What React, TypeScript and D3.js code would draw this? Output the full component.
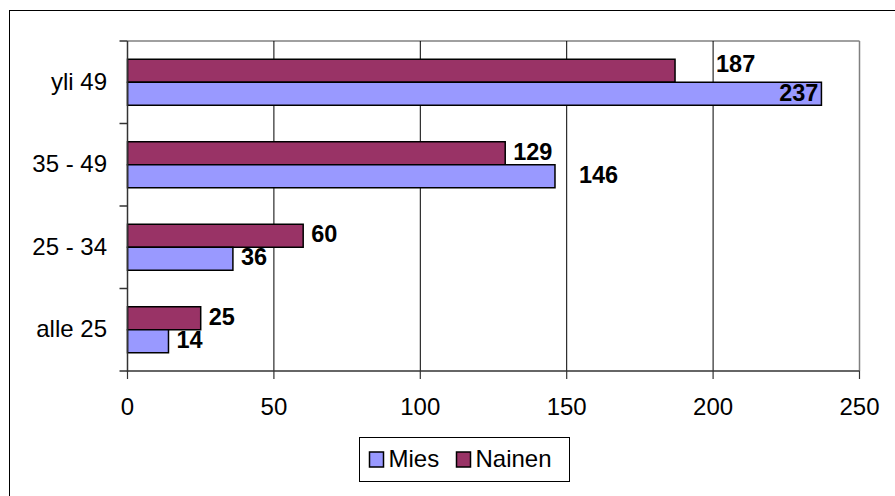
import React from "react";
import * as d3 from "d3";

const categories = ["yli 49", "35 - 49", "25 - 34", "alle 25"];
const seriesNames = ["Nainen", "Mies"];
const miesValues = [237, 146, 36, 14];
const nainenValues = [187, 129, 60, 25];
const xTicks = [0, 50, 100, 150, 200, 250];
const legendItems = ["Mies", "Nainen"];

const colors: Record<string, string> = { Mies: "#9999FF", Nainen: "#993366" };

// Excel-style label placement nudges (key: series|category)
const labelNudge: Record<string, { dx: number; dy: number; inside?: boolean }> = {
  "Nainen|yli 49": { dx: 33, dy: -5 },
  "Mies|yli 49": { dx: -11, dy: 1, inside: true },
  "Mies|35 - 49": { dx: 16, dy: 0.5 },
};

const W = 895;
const H = 496;
const FONT = "Arial, 'Liberation Sans', Helvetica, sans-serif";
const FS = 24;
const FSB = 23.5;

export default function App() {
  const x = d3.scaleLinear().domain([0, 250]).range([127.5, 859.5]);
  const y = d3.scaleBand<string>().domain(categories).range([41, 371]);
  const bw = y.bandwidth();
  const inner = d3
    .scaleBand<string>()
    .domain(seriesNames)
    .range([0, bw])
    .paddingInner(0)
    .paddingOuter((bw / 23 - 2) / 2);

  const dataBySeries: Record<string, number[]> = { Mies: miesValues, Nainen: nainenValues };
  const plotTop = y.range()[0];
  const plotBottom = y.range()[1];

  const bars: React.ReactNode[] = [];
  const labels: React.ReactNode[] = [];
  categories.forEach((c, i) => {
    seriesNames.forEach((s) => {
      const v = dataBySeries[s][i];
      const by = (y(c) as number) + (inner(s) as number);
      const bh = inner.bandwidth();
      bars.push(
        <rect
          key={`b-${s}-${c}`}
          x={x(0)}
          y={by}
          width={x(v) - x(0)}
          height={bh}
          fill={colors[s]}
          stroke="#000"
          strokeWidth={1.5}
        />
      );
      const n = labelNudge[`${s}|${c}`] || { dx: 0, dy: 0 };
      const cy = by + bh / 2 - 2 + n.dy;
      const lx = n.inside ? x(v) - 3 : x(v) + 8 + n.dx;
      labels.push(
        <text
          key={`l-${s}-${c}`}
          x={lx}
          y={cy + FSB * 0.358}
          textAnchor={n.inside ? "end" : "start"}
          fontFamily={FONT}
          fontSize={FSB}
          fontWeight="bold"
          fill="#000"
        >
          {v}
        </text>
      );
    });
  });

  const catBounds = [plotTop, ...categories.map((c) => (y(c) as number) + bw)];

  return (
    <svg
      width={W}
      height={H}
      style={{ position: "absolute", left: 0, top: 0, display: "block", background: "#fff" }}
    >
      <rect x={0} y={0} width={W} height={H} fill="#fff" />
      {/* outer chart border */}
      <rect x={9.5} y={10.5} width={W + 20} height={H + 20} fill="none" stroke="#000" strokeWidth={1} />
      {/* plot border top/right */}
      <line x1={x(0)} x2={x(250)} y1={plotTop} y2={plotTop} stroke="#808080" strokeWidth={1.5} />
      <line x1={x(250)} x2={x(250)} y1={plotTop} y2={plotBottom} stroke="#808080" strokeWidth={1.5} />
      {/* gridlines */}
      {xTicks
        .filter((t) => t > 0 && t < 250)
        .map((t) => (
          <line key={`g-${t}`} x1={x(t)} x2={x(t)} y1={plotTop} y2={plotBottom} stroke="#000" strokeWidth={1} />
        ))}
      {bars}
      {/* axes */}
      <line x1={x(0)} x2={x(0)} y1={plotTop} y2={plotBottom + 1} stroke="#333" strokeWidth={1.5} />
      <line x1={x(0)} x2={x(250)} y1={plotBottom} y2={plotBottom} stroke="#333" strokeWidth={1.5} />
      {catBounds.map((b, i) => (
        <line key={`yt-${i}`} x1={x(0) - 8} x2={x(0)} y1={b} y2={b} stroke="#333" strokeWidth={1.5} />
      ))}
      {xTicks.map((t) => (
        <g key={`xt-${t}`}>
          <line x1={x(t)} x2={x(t)} y1={plotBottom} y2={plotBottom + 8} stroke="#333" strokeWidth={1.2} />
          <text
            x={x(t)}
            y={plotBottom + 44}
            textAnchor="middle"
            fontFamily={FONT}
            fontSize={FS}
            fill="#000"
          >
            {t}
          </text>
        </g>
      ))}
      {categories.map((c) => (
        <text
          key={`cl-${c}`}
          x={107}
          y={(y(c) as number) + bw / 2 - 1 + FS * 0.358}
          textAnchor="end"
          fontFamily={FONT}
          fontSize={FS}
          fill="#000"
        >
          {c}
        </text>
      ))}
      {labels}
      {/* legend */}
      <rect x={359.5} y={437.5} width={210} height={44} fill="#fff" stroke="#000" strokeWidth={1} />
      {legendItems.map((s, i) => {
        const lx = i === 0 ? 369.5 : 456.5;
        return (
          <g key={`lg-${s}`}>
            <rect x={lx} y={452} width={14} height={15} fill={colors[s]} stroke="#000" strokeWidth={1.5} />
            <text x={lx + 19} y={467} fontFamily={FONT} fontSize={FS} fill="#000">
              {s}
            </text>
          </g>
        );
      })}
    </svg>
  );
}
